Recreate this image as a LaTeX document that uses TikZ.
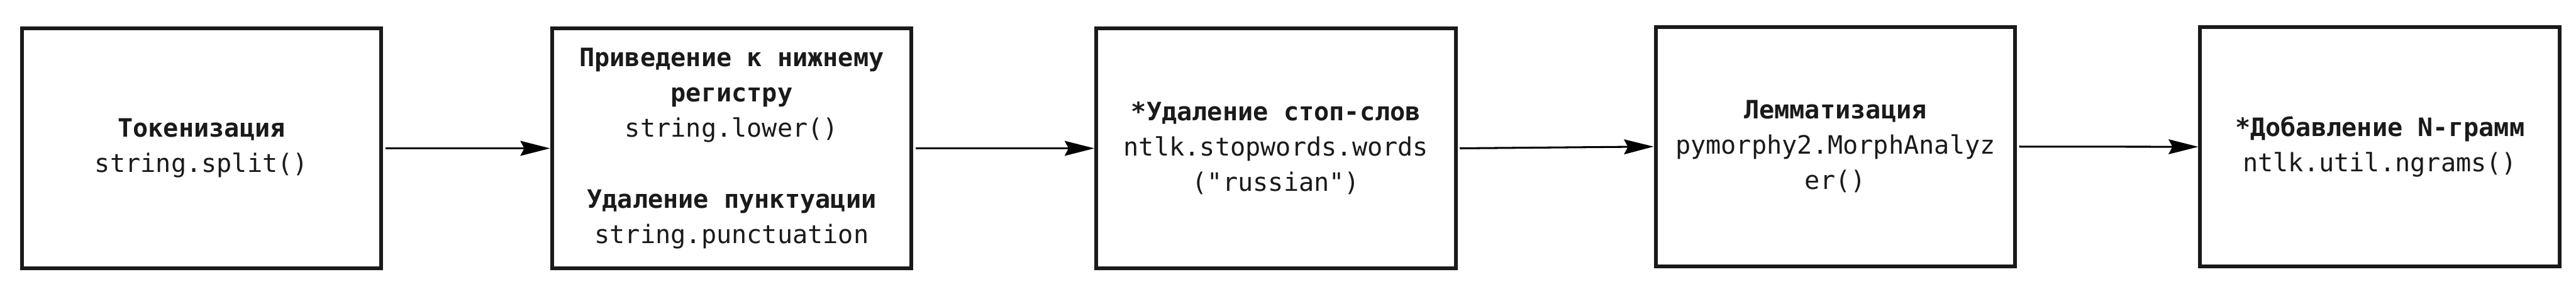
\documentclass[tikz,border=0pt]{standalone}
\usepackage{fontspec}
\setmonofont{DejaVu Sans Mono}
\usetikzlibrary{arrows.meta}
\definecolor{boxline}{HTML}{1A1A1A}
\begin{document}
\begin{tikzpicture}[
  font=\ttfamily\fontsize{16.5}{23}\selectfont,
  text=boxline,
  stage/.style={draw=boxline, line width=2.45pt, minimum width=8.24cm, minimum height=5.483cm, align=center, inner sep=0pt},
  flow/.style={-{Stealth[length=0.68cm, width=0.34cm, inset=0.09cm]}, line width=1.25pt, shorten <=0.05cm}
]
\useasboundingbox (0,0) rectangle (59.04,6.77);
% preprocessing stages
\node[stage] (tok) at (4.62,3.375) {\textbf{Токенизация}\\string.split()};
\node[stage] (low) at (16.77,3.375) {\textbf{Приведение к нижнему}\\\textbf{регистру}\\string.lower()\\[0.81cm]\textbf{Удаление пунктуации}\\string.punctuation};
\node[stage] (stop) at (29.245,3.375) {\textbf{*Удаление стоп-слов}\\ntlk.stopwords.words\\("russian")};
\node[stage] (lem) at (42.065,3.415) {\textbf{Лемматизация}\\pymorphy2.MorphAnalyz\\er()};
\node[stage] (ngr) at (54.545,3.41) {\textbf{*Добавление N-грамм}\\ntlk.util.ngrams()};
% arrows
\foreach \a/\b in {tok/low, low/stop, stop/lem, lem/ngr}
  \draw[flow] (\a.east) -- (\b.west);
\end{tikzpicture}
\end{document}
